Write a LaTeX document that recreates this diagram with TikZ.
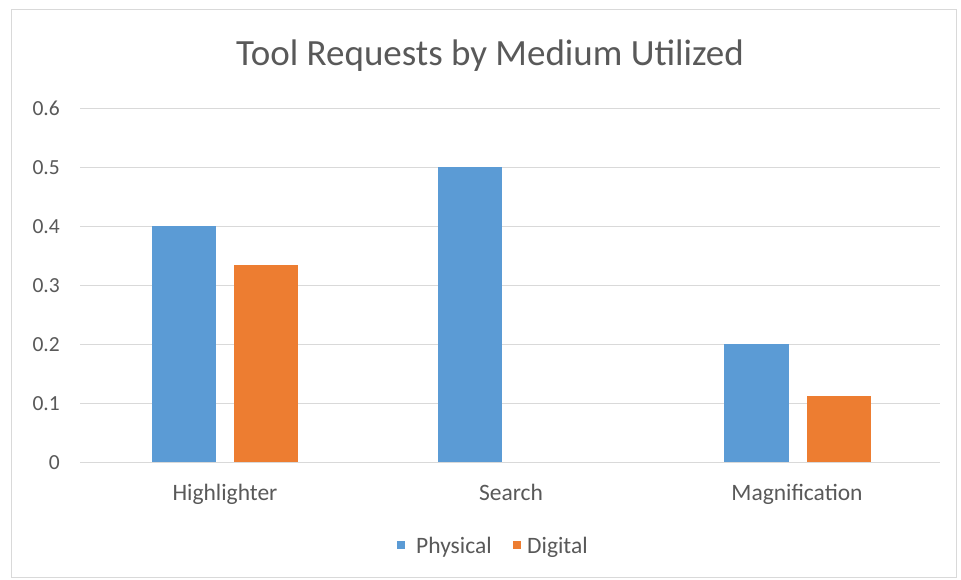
\documentclass[tikz,border=0pt]{standalone}
\usepackage{fontspec}
\setmainfont{Carlito}
\definecolor{phys}{HTML}{5B9BD5}
\definecolor{digi}{HTML}{ED7D31}
\definecolor{grid}{HTML}{D9D9D9}
\definecolor{txt}{HTML}{595959}
\definecolor{frame}{HTML}{D9D9D9}
\begin{document}
\begin{tikzpicture}[x=1pt,y=-1pt,
  gridline/.style={draw=grid,line width=0.9pt},
  ticklabel/.style={anchor=base east,text=txt,font=\fontsize{21.5}{24}\selectfont,inner sep=0pt},
  catlabel/.style={anchor=base,text=txt,font=\fontsize{23.5}{26}\selectfont,inner sep=0pt},
  legtext/.style={anchor=base west,text=txt,font=\fontsize{23.5}{26}\selectfont,inner sep=0pt},
  physbar/.style={fill=phys,draw=none},
  digibar/.style={fill=digi,draw=none}]
\useasboundingbox (0,0) rectangle (961,579);
\fill[white] (0,0) rectangle (961,579);
% chart frame
\draw[frame,line width=1pt] (11,9) rectangle (956,577);
% title
\node[anchor=base,text=txt,font=\fontsize{37}{42}\selectfont,inner sep=0pt] (title) at (490,65) {Tool Requests by Medium Utilized};
% horizontal gridlines and value labels
\foreach \v/\lab in {0/0,1/0.1,2/0.2,3/0.3,4/0.4,5/0.5,6/0.6}{
  \draw[gridline] (80,{462-59*\v}) -- (940,{462-59*\v});
  \node[ticklabel] (tick\v) at (60,{469-59*\v}) {\lab};
}
% bars: value 0.1 = 59 units
\fill[physbar] (152,462) rectangle (216,{462-590*0.4});
\fill[digibar] (234,462) rectangle (298,{462-590*0.3333});
\fill[physbar] (438,462) rectangle (502,{462-590*0.5});
\fill[physbar] (724,462) rectangle (789,{462-590*0.2});
\fill[digibar] (807,462) rectangle (871,{462-590*0.1111});
% category labels
\node[catlabel] (c1) at (225,500) {Highlighter};
\node[catlabel] (c2) at (511,500) {Search};
\node[catlabel] (c3) at (797,500) {Magnification};
% legend
\fill[phys] (397,541) rectangle (405,549);
\node[legtext] (l1) at (416,553) {Physical};
\fill[digi] (513,541) rectangle (521,549);
\node[legtext] (l2) at (527,553) {Digital};
\end{tikzpicture}
\end{document}
